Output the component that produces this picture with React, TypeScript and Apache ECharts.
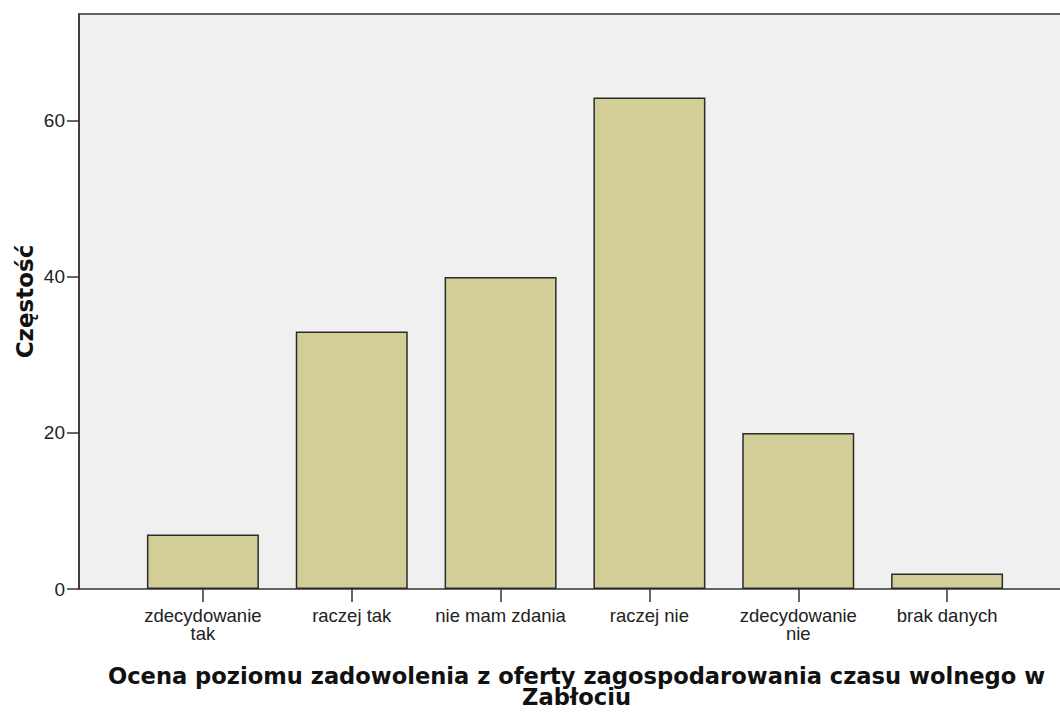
import React, { useEffect, useRef } from "react";
import * as echarts from "echarts";

const categories = [
  "zdecydowanie\ntak",
  "raczej tak",
  "nie mam zdania",
  "raczej nie",
  "zdecydowanie\nnie",
  "brak danych",
];
const frequencies = [7, 33, 40, 63, 20, 2];
const yTitle = "Częstość";
const xTitle = "Ocena poziomu zadowolenia z oferty zagospodarowania czasu wolnego w\nZabłociu";

const W = 1060;
const H = 713;
const LABEL_FONT = "'Liberation Sans', Arial, sans-serif";
const TITLE_FONT = "'DejaVu Sans', 'Liberation Sans', Arial, sans-serif";

export default function App() {
  const ref = useRef<HTMLDivElement>(null);
  useEffect(() => {
    if (!ref.current) return;
    const chart = echarts.init(ref.current, undefined, { renderer: "svg" });
    const frameLeft = 79;
    const frameTop = 14;
    const frameBottom = 589;
    chart.setOption({
      animation: false,
      backgroundColor: "#ffffff",
      grid: {
        left: 128.5,
        right: 38.5,
        top: frameTop,
        bottom: H - frameBottom,
        containLabel: false,
      },
      xAxis: {
        type: "category",
        data: categories,
        axisLine: { show: false },
        axisTick: {
          show: true,
          alignWithLabel: true,
          length: 13,
          lineStyle: { color: "#333", width: 1.5 },
        },
        axisLabel: {
          interval: 0,
          fontFamily: LABEL_FONT,
          fontSize: 18.5,
          lineHeight: 18,
          color: "#222",
          margin: 17,
        },
        splitLine: { show: false },
      },
      yAxis: {
        type: "value",
        min: 0,
        max: 73.7,
        interval: 20,
        offset: 49.5,
        axisLine: { show: true, lineStyle: { color: "#333", width: 1.5 } },
        axisTick: {
          show: true,
          length: 12,
          lineStyle: { color: "#333", width: 1.5 },
        },
        axisLabel: {
          fontFamily: LABEL_FONT,
          fontSize: 19,
          color: "#222",
          margin: 14,
          padding: [8, 0, 0, 0],
          showMaxLabel: false,
        },
        splitLine: { show: false },
      },
      graphic: [
        {
          type: "rect",
          z: -1,
          silent: true,
          shape: {
            x: frameLeft,
            y: frameTop,
            width: W + 40 - frameLeft,
            height: frameBottom - frameTop,
          },
          style: { fill: "#f0f0f0", stroke: "#333", lineWidth: 1.5 },
        },
        {
          type: "text",
          x: 25,
          y: (frameTop + frameBottom) / 2,
          rotation: Math.PI / 2,
          style: {
            text: yTitle,
            fontFamily: TITLE_FONT,
            fontSize: 23,
            fontWeight: "bold",
            fill: "#111",
            align: "center",
            verticalAlign: "middle",
          },
        },
        {
          type: "text",
          x: 576.5,
          y: 686,
          style: {
            text: xTitle,
            fontFamily: TITLE_FONT,
            fontSize: 22.6,
            fontWeight: "bold",
            lineHeight: 21,
            fill: "#111",
            align: "center",
            verticalAlign: "middle",
          },
        },
      ],
      series: [
        {
          type: "bar",
          data: frequencies,
          barWidth: 112,
          itemStyle: {
            color: "#d3ce97",
            borderColor: "#2b2b2b",
            borderWidth: 1.5,
          },
          z: 2,
        },
      ],
    });
    return () => chart.dispose();
  }, []);
  return (
    <div
      ref={ref}
      style={{ position: "absolute", left: 0, top: 0, width: W, height: H }}
    />
  );
}
